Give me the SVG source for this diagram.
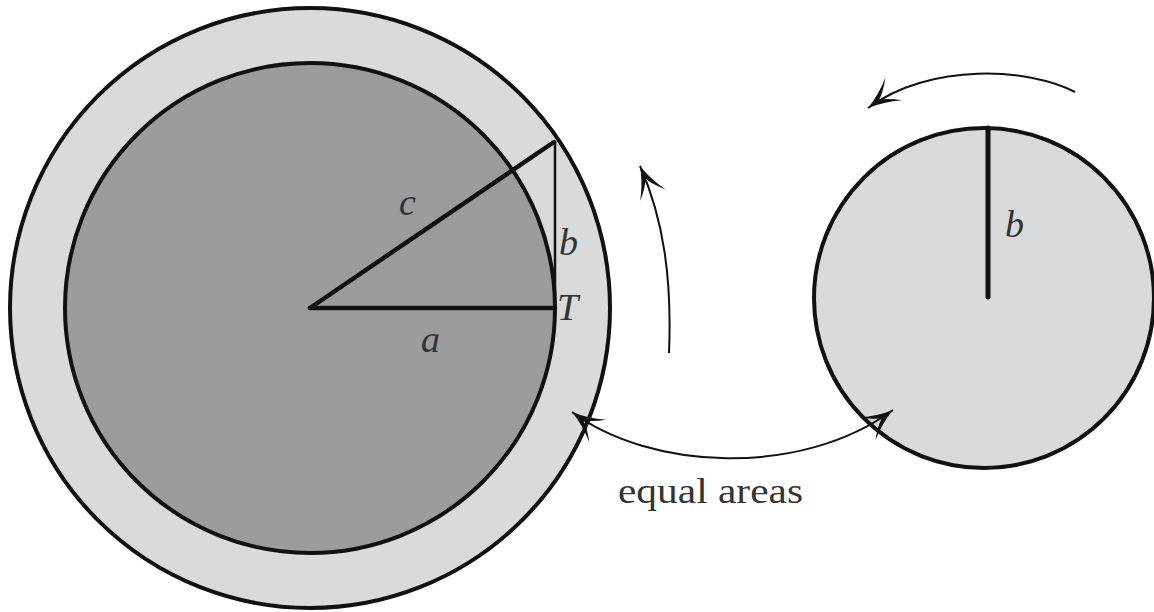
<svg xmlns="http://www.w3.org/2000/svg" width="1154" height="612" viewBox="0 0 1154 612">
<defs>
<style>
.ring{fill:#d9dadc;stroke:#111;stroke-width:4}
.core{fill:#9b9c9e;stroke:#111;stroke-width:4}
.edge{stroke:#111;stroke-linecap:round;fill:none}
.conn{fill:none;stroke:#111;stroke-width:2}
.lbl{font-family:"Liberation Serif","DejaVu Serif",serif;font-style:italic;font-size:38px;fill:#333}
.cap{font-family:"Liberation Serif","DejaVu Serif",serif;font-size:36px;fill:#333}
</style>
<marker id="arr" markerUnits="userSpaceOnUse" viewBox="-36 -18 40 36" markerWidth="40" markerHeight="36" refX="0" refY="0" orient="auto-start-reverse" overflow="visible">
<path d="M0,0 Q-16,-4 -32,-14 Q-22,-4 -14,0 Q-22,4 -32,14 Q-16,4 0,0 Z" fill="#111"/>
</marker>
</defs>
<rect width="1154" height="612" fill="#fff"/>
<g id="big-circle">
<circle class="ring" cx="310" cy="308" r="300"/>
<circle class="core" cx="310" cy="308" r="245"/>
</g>
<g id="triangle">
<line class="edge" x1="310" y1="308" x2="555" y2="308" stroke-width="4.5"/>
<line class="edge" x1="310" y1="308" x2="554" y2="142" stroke-width="4.5"/>
<line class="edge" x1="555" y1="142" x2="555" y2="308" stroke-width="2.5"/>
<text class="lbl" x="399" y="215">c</text>
<text class="lbl" x="559" y="255">b</text>
<text class="lbl" x="557" y="320">T</text>
<text class="lbl" x="421" y="352">a</text>
</g>
<g id="small-circle">
<circle class="ring" cx="984" cy="298" r="170"/>
<line class="edge" x1="988" y1="128" x2="988" y2="297" stroke-width="5"/>
<text class="lbl" x="1005" y="237">b</text>
</g>
<g id="connectors">
<path class="conn" d="M572,412 C650,470 800,478 893,410" marker-start="url(#arr)" marker-end="url(#arr)"/>
<path class="conn" d="M669,353 C672,280 664,220 640,166" marker-end="url(#arr)"/>
<path class="conn" d="M1075,92 C1030,68 930,62 868,108" marker-end="url(#arr)"/>
</g>
<g id="caption">
<text class="cap" x="618" y="503" textLength="185" lengthAdjust="spacingAndGlyphs">equal areas</text>
</g>
</svg>
